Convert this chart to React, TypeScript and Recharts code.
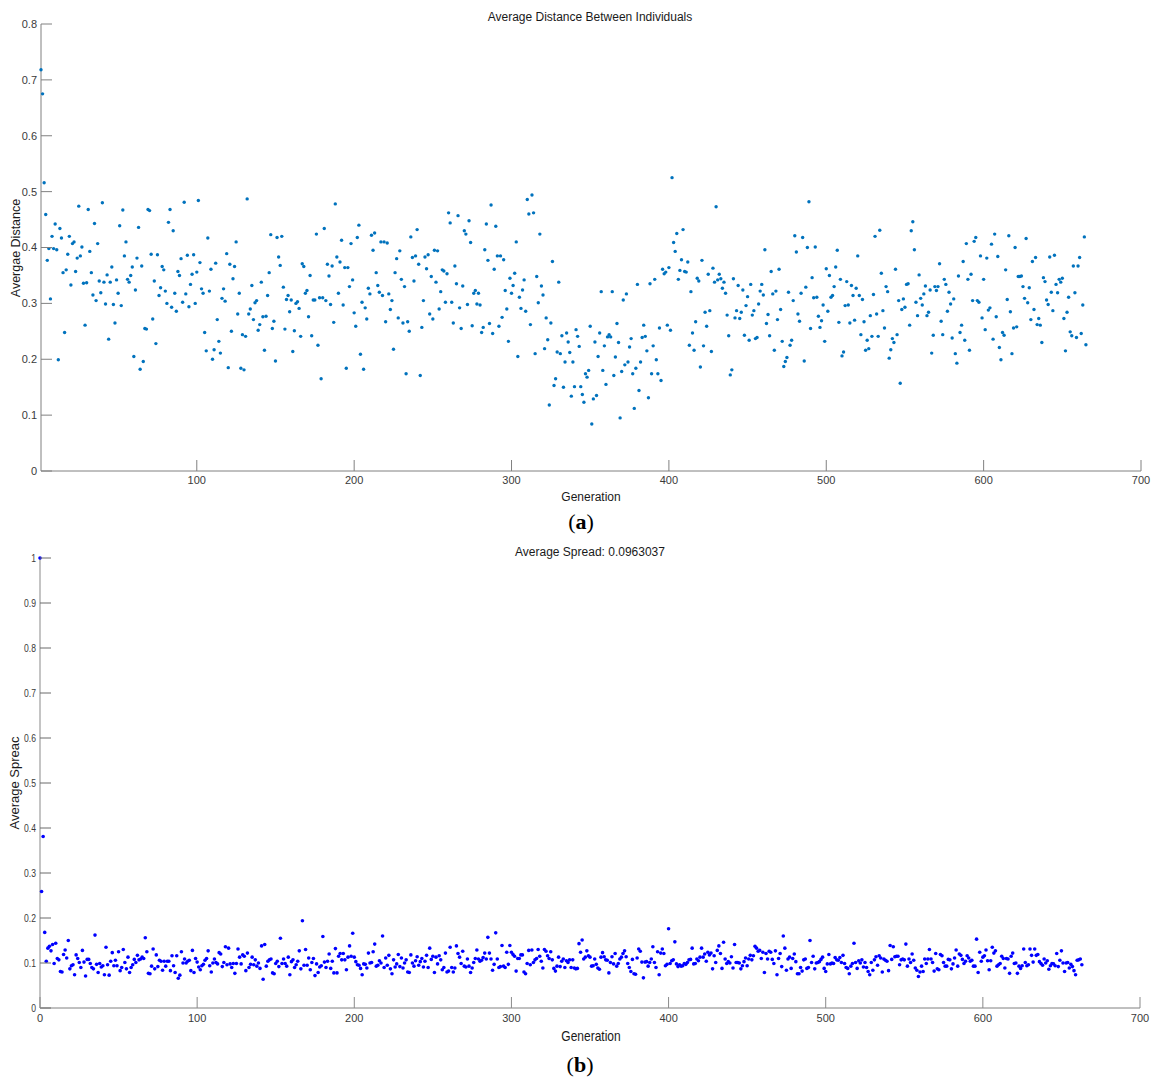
import { ScatterChart, Scatter, XAxis, YAxis } from 'recharts'

// (a) average distance between individuals, generations 1..665
const distancePart1 = [
  0.718, 0.675, 0.516, 0.459, 0.377, 0.398, 0.308, 0.42, 0.398, 0.442,
  0.396, 0.199, 0.434, 0.417, 0.355, 0.248, 0.36, 0.388, 0.42, 0.333,
  0.407, 0.41, 0.357, 0.381, 0.474, 0.385, 0.401, 0.336, 0.261, 0.337,
  0.468, 0.393, 0.355, 0.315, 0.443, 0.305, 0.407, 0.34, 0.319, 0.48,
  0.338, 0.299, 0.351, 0.236, 0.338, 0.365, 0.298, 0.265, 0.342, 0.318,
  0.439, 0.296, 0.467, 0.385, 0.41, 0.343, 0.338, 0.35, 0.365, 0.205,
  0.324, 0.381, 0.436, 0.182, 0.367, 0.196, 0.255, 0.254, 0.468, 0.466,
  0.388, 0.272, 0.34, 0.228, 0.387, 0.314, 0.328, 0.366, 0.36, 0.322,
  0.3, 0.445, 0.468, 0.293, 0.43, 0.318, 0.286, 0.357, 0.35, 0.38,
  0.302, 0.481, 0.317, 0.386, 0.294, 0.334, 0.352, 0.387, 0.3, 0.356,
  0.484, 0.373, 0.326, 0.318, 0.248, 0.215, 0.417, 0.322, 0.361, 0.2,
  0.217, 0.372, 0.271, 0.232, 0.211, 0.309, 0.326, 0.304, 0.389, 0.185,
  0.37, 0.25, 0.344, 0.366, 0.41, 0.281, 0.318, 0.184, 0.244, 0.181,
  0.241, 0.487, 0.281, 0.29, 0.332, 0.271, 0.301, 0.305, 0.252, 0.262,
  0.338, 0.276, 0.216, 0.277, 0.314, 0.355, 0.423, 0.255, 0.268, 0.197,
  0.418, 0.383, 0.368, 0.42, 0.329, 0.254, 0.307, 0.314, 0.285, 0.306,
  0.214, 0.251, 0.3, 0.303, 0.291, 0.241, 0.371, 0.366, 0.318, 0.323,
  0.276, 0.35, 0.242, 0.306, 0.306, 0.424, 0.225, 0.31,
]
const distancePart2 = [
  0.165, 0.310, 0.434, 0.305, 0.370, 0.349, 0.298, 0.367, 0.266, 0.478,
  0.383, 0.318, 0.374, 0.413, 0.297, 0.364, 0.184, 0.364, 0.330, 0.407,
  0.342, 0.283, 0.259, 0.418, 0.440, 0.209, 0.302, 0.182, 0.292, 0.272,
  0.327, 0.317, 0.422, 0.395, 0.426, 0.355, 0.332, 0.320, 0.410, 0.314,
  0.410, 0.267, 0.408, 0.317, 0.289, 0.305, 0.218, 0.355, 0.380, 0.274,
  0.394, 0.343, 0.265, 0.330, 0.174, 0.267, 0.250, 0.419, 0.382, 0.340,
  0.385, 0.432, 0.370, 0.171, 0.257, 0.305, 0.383, 0.362, 0.387, 0.281,
  0.348, 0.272, 0.395, 0.338, 0.394, 0.290, 0.321, 0.360, 0.358, 0.302,
  0.353, 0.462, 0.444, 0.302, 0.265, 0.367, 0.335, 0.457, 0.292, 0.255,
  0.331, 0.430, 0.424, 0.298, 0.448, 0.409, 0.260, 0.318, 0.323, 0.299,
  0.318, 0.297, 0.248, 0.257, 0.396, 0.442, 0.377, 0.264, 0.476, 0.246,
  0.361, 0.438, 0.385, 0.259, 0.385, 0.275, 0.378, 0.323, 0.290, 0.232,
  0.345, 0.318, 0.332, 0.354, 0.410, 0.205, 0.311, 0.291, 0.324, 0.342,
  0.286, 0.486, 0.460, 0.262, 0.494, 0.462, 0.210, 0.348, 0.301, 0.424,
  0.331, 0.315, 0.219, 0.274, 0.235, 0.118, 0.265, 0.375, 0.153, 0.165,
  0.213, 0.338, 0.210, 0.242, 0.150, 0.195, 0.247, 0.231, 0.212, 0.134,
  0.195, 0.151, 0.253, 0.241, 0.223, 0.151, 0.137, 0.123, 0.174, 0.168,
  0.180, 0.259, 0.084, 0.129, 0.231, 0.135, 0.205, 0.247,
]
const distancePart3 = [
  0.321, 0.180, 0.224, 0.155, 0.240, 0.244, 0.240, 0.321, 0.171, 0.204,
  0.264, 0.230, 0.095, 0.178, 0.306, 0.190, 0.317, 0.195, 0.222, 0.237,
  0.174, 0.112, 0.184, 0.334, 0.144, 0.195, 0.239, 0.261, 0.241, 0.215,
  0.131, 0.335, 0.174, 0.224, 0.343, 0.199, 0.174, 0.256, 0.162, 0.361,
  0.353, 0.356, 0.261, 0.364, 0.252, 0.525, 0.409, 0.393, 0.425, 0.343,
  0.359, 0.378, 0.432, 0.357, 0.356, 0.374, 0.225, 0.321, 0.247, 0.216,
  0.267, 0.345, 0.340, 0.186, 0.377, 0.224, 0.284, 0.259, 0.352, 0.287,
  0.214, 0.363, 0.338, 0.473, 0.342, 0.352, 0.344, 0.327, 0.338, 0.318,
  0.279, 0.242, 0.172, 0.181, 0.344, 0.274, 0.287, 0.332, 0.273, 0.284,
  0.324, 0.243, 0.296, 0.312, 0.234, 0.334, 0.279, 0.287, 0.237, 0.239,
  0.299, 0.322, 0.334, 0.315, 0.396, 0.264, 0.280, 0.242, 0.357, 0.317,
  0.216, 0.322, 0.271, 0.361, 0.289, 0.232, 0.187, 0.196, 0.203, 0.320,
  0.225, 0.234, 0.305, 0.421, 0.392, 0.281, 0.268, 0.318, 0.418, 0.197,
  0.329, 0.400, 0.482, 0.255, 0.346, 0.310, 0.401, 0.311, 0.277, 0.257,
  0.269, 0.297, 0.232, 0.362, 0.286, 0.350, 0.311, 0.314, 0.330, 0.365,
  0.395, 0.266, 0.343, 0.206, 0.213, 0.296, 0.339, 0.297, 0.265, 0.332,
  0.314, 0.270, 0.327, 0.385, 0.314, 0.244, 0.307, 0.267, 0.216, 0.234,
  0.219, 0.278, 0.241, 0.316, 0.420, 0.281, 0.241, 0.431,
]
const distancePart4 = [
  0.354, 0.287, 0.256, 0.330, 0.321, 0.202, 0.217, 0.237, 0.230, 0.361,
  0.244, 0.305, 0.157, 0.289, 0.308, 0.293, 0.334, 0.335, 0.261, 0.430,
  0.446, 0.396, 0.302, 0.278, 0.351, 0.309, 0.297, 0.317, 0.331, 0.278,
  0.284, 0.324, 0.211, 0.243, 0.330, 0.323, 0.330, 0.371, 0.268, 0.244,
  0.343, 0.334, 0.286, 0.320, 0.299, 0.238, 0.308, 0.210, 0.193, 0.349,
  0.248, 0.261, 0.375, 0.234, 0.407, 0.343, 0.216, 0.352, 0.305, 0.411,
  0.418, 0.305, 0.302, 0.385, 0.274, 0.343, 0.253, 0.381, 0.288, 0.292,
  0.406, 0.236, 0.424, 0.276, 0.384, 0.221, 0.199, 0.248, 0.243, 0.360,
  0.307, 0.421, 0.285, 0.210, 0.256, 0.400, 0.258, 0.348, 0.348, 0.349,
  0.330, 0.309, 0.416, 0.301, 0.328, 0.271, 0.375, 0.289, 0.382, 0.262,
  0.273, 0.261, 0.230, 0.346, 0.339, 0.306, 0.298, 0.383, 0.320, 0.287,
  0.386, 0.334, 0.319, 0.343, 0.338, 0.345, 0.273, 0.215, 0.284, 0.311,
  0.249, 0.242, 0.367, 0.319, 0.239, 0.367, 0.382, 0.246, 0.297, 0.419,
  0.226,
]

// (b) average spread, generations 0..665
const spreadPart1 = [
  1.0, 0.259, 0.381, 0.168, 0.104, 0.133, 0.137, 0.127, 0.141, 0.099,
  0.144, 0.110, 0.107, 0.081, 0.080, 0.119, 0.129, 0.111, 0.150, 0.087,
  0.094, 0.096, 0.074, 0.118, 0.110, 0.101, 0.090, 0.128, 0.102, 0.071,
  0.108, 0.108, 0.099, 0.090, 0.087, 0.162, 0.097, 0.079, 0.099, 0.091,
  0.094, 0.074, 0.135, 0.096, 0.073, 0.104, 0.123, 0.094, 0.106, 0.094,
  0.125, 0.083, 0.090, 0.130, 0.101, 0.087, 0.113, 0.079, 0.090, 0.096,
  0.108, 0.101, 0.117, 0.107, 0.109, 0.113, 0.110, 0.156, 0.125, 0.077,
  0.076, 0.093, 0.131, 0.087, 0.118, 0.092, 0.106, 0.104, 0.084, 0.104,
  0.093, 0.104, 0.104, 0.083, 0.116, 0.094, 0.079, 0.116, 0.066, 0.073,
  0.125, 0.100, 0.109, 0.100, 0.104, 0.106, 0.083, 0.128, 0.079, 0.110,
  0.102, 0.091, 0.085, 0.094, 0.097, 0.106, 0.110, 0.127, 0.094, 0.080,
  0.100, 0.109, 0.101, 0.098, 0.123, 0.120, 0.092, 0.101, 0.136, 0.096,
  0.133, 0.098, 0.090, 0.099, 0.077, 0.099, 0.131, 0.113, 0.098, 0.118,
  0.115, 0.083, 0.122, 0.090, 0.097, 0.113, 0.096, 0.107, 0.093, 0.100,
  0.088, 0.138, 0.064, 0.141, 0.093, 0.104, 0.107, 0.109, 0.078, 0.076,
  0.099, 0.104, 0.092, 0.155, 0.099, 0.109, 0.099, 0.093, 0.113, 0.074,
  0.103, 0.107, 0.090, 0.096, 0.104, 0.127, 0.087, 0.194, 0.095, 0.130,
  0.095, 0.111, 0.085, 0.101, 0.110, 0.072, 0.098, 0.079, 0.091, 0.094,
  0.159, 0.102, 0.090, 0.104, 0.120, 0.088, 0.104, 0.078, 0.132, 0.078,
  0.115, 0.121, 0.107, 0.121, 0.107, 0.085, 0.113, 0.138, 0.115, 0.166,
  0.113, 0.103, 0.096, 0.095, 0.088, 0.074, 0.098, 0.097, 0.089, 0.122,
  0.100, 0.101, 0.125, 0.142, 0.093, 0.095, 0.105, 0.100, 0.160, 0.090,
  0.111, 0.095, 0.117, 0.087, 0.076, 0.107, 0.091, 0.098, 0.119, 0.092,
  0.111,
]
const spreadPart2 = [
  0.089, 0.100, 0.107, 0.080, 0.079, 0.118, 0.100, 0.093, 0.105, 0.114,
  0.095, 0.103, 0.110, 0.091, 0.104, 0.117, 0.090, 0.133, 0.108, 0.115,
  0.079, 0.113, 0.098, 0.116, 0.107, 0.085, 0.090, 0.122, 0.080,
  0.082, 0.135, 0.090, 0.080, 0.089, 0.138, 0.121, 0.113, 0.099, 0.126,
  0.093, 0.091, 0.109, 0.093, 0.079, 0.089, 0.101, 0.110, 0.129, 0.109,
  0.104, 0.106, 0.112, 0.122, 0.109, 0.157, 0.122, 0.109, 0.084, 0.097,
  0.167, 0.109, 0.090, 0.092, 0.139, 0.093, 0.090, 0.124, 0.097, 0.139,
  0.124, 0.119, 0.115, 0.082, 0.110, 0.110, 0.118, 0.118,
  0.080, 0.076, 0.099, 0.128, 0.096, 0.129, 0.101, 0.107, 0.110, 0.130,
  0.115, 0.104, 0.089, 0.130, 0.126, 0.116, 0.110, 0.125, 0.107, 0.088,
  0.082, 0.093, 0.113, 0.092, 0.104, 0.109, 0.090, 0.105, 0.101, 0.107,
  0.090, 0.107, 0.089, 0.087, 0.088, 0.143, 0.124, 0.151, 0.109, 0.113,
  0.127, 0.116, 0.113, 0.093, 0.094, 0.109, 0.097, 0.089, 0.086, 0.113,
  0.123, 0.114, 0.107, 0.106, 0.078, 0.101, 0.114, 0.098, 0.121, 0.093,
  0.099, 0.109, 0.113, 0.121, 0.127, 0.114, 0.099, 0.090, 0.081, 0.108,
  0.076, 0.075, 0.111, 0.131, 0.126, 0.102, 0.067, 0.102, 0.103,
  0.093, 0.101, 0.109, 0.136, 0.101, 0.090, 0.125, 0.074, 0.122, 0.131,
  0.121, 0.094, 0.097, 0.176, 0.099, 0.105, 0.107, 0.147, 0.098, 0.092,
  0.096, 0.093, 0.094, 0.099, 0.097, 0.101, 0.107, 0.108, 0.133, 0.098,
  0.099, 0.109, 0.105, 0.113, 0.133, 0.113, 0.120, 0.104, 0.124, 0.118,
  0.122, 0.087, 0.116, 0.101, 0.128, 0.138, 0.121, 0.088, 0.146, 0.109,
  0.099, 0.103, 0.100, 0.114, 0.089, 0.141, 0.101, 0.101, 0.100, 0.087,
  0.094, 0.103, 0.111, 0.094, 0.109, 0.117, 0.107, 0.116, 0.137,
  0.133, 0.126, 0.128, 0.110, 0.124, 0.079, 0.121, 0.109, 0.126, 0.124,
  0.108, 0.099, 0.127, 0.074,
]
const spreadPart3 = [
  0.110, 0.121, 0.092, 0.160, 0.133, 0.084, 0.109, 0.113, 0.088, 0.110,
  0.120, 0.103, 0.076, 0.076, 0.090, 0.082, 0.107, 0.109, 0.088,
  0.090, 0.150, 0.101, 0.115, 0.087, 0.100, 0.101, 0.103, 0.108, 0.113,
  0.088, 0.081, 0.098, 0.119, 0.098, 0.100, 0.099, 0.112, 0.107, 0.106,
  0.112, 0.101, 0.117, 0.099, 0.090, 0.088, 0.076, 0.093, 0.099, 0.144,
  0.101, 0.088, 0.105, 0.100, 0.107, 0.091, 0.101, 0.090, 0.081, 0.074,
  0.101, 0.084, 0.107, 0.114, 0.095, 0.116, 0.111, 0.080, 0.109, 0.106,
  0.104, 0.083, 0.139, 0.108, 0.136, 0.114, 0.115, 0.115, 0.096,
  0.107, 0.109, 0.107, 0.142, 0.093, 0.109, 0.101, 0.120, 0.106, 0.089,
  0.084, 0.070, 0.080, 0.093, 0.081, 0.109, 0.099, 0.109, 0.130, 0.109,
  0.101, 0.082, 0.121, 0.087, 0.085, 0.119, 0.116, 0.101, 0.093, 0.093,
  0.108, 0.107, 0.087, 0.098, 0.111, 0.129, 0.093, 0.120, 0.117, 0.108,
  0.099, 0.104, 0.116, 0.111, 0.104, 0.106, 0.093, 0.093, 0.153,
  0.079, 0.124, 0.104, 0.113, 0.116, 0.129, 0.105, 0.085, 0.105, 0.135,
  0.122, 0.127, 0.093, 0.096, 0.099, 0.115, 0.110, 0.089, 0.110, 0.109,
  0.077, 0.115, 0.122, 0.099, 0.100, 0.077, 0.093, 0.088, 0.094, 0.131,
  0.101, 0.094, 0.096, 0.131, 0.117, 0.102, 0.131, 0.117, 0.119,
  0.103, 0.099, 0.095, 0.109, 0.100, 0.105, 0.086, 0.094, 0.099, 0.098,
  0.094, 0.121, 0.092, 0.106, 0.127, 0.100, 0.081, 0.100, 0.101, 0.089,
  0.097, 0.092, 0.083, 0.074, 0.106, 0.107, 0.109, 0.096,
]

const distTicksX = [100, 200, 300, 400, 500, 600, 700]
const distTicksY = [0, 0.1, 0.2, 0.3, 0.4, 0.5, 0.6, 0.7, 0.8]
const spreadTicksX = [0, 100, 200, 300, 400, 500, 600, 700]
const spreadTicksY = [0, 0.1, 0.2, 0.3, 0.4, 0.5, 0.6, 0.7, 0.8, 0.9, 1]

const distData = [...distancePart1, ...distancePart2, ...distancePart3, ...distancePart4]
  .map((v, i) => ({ gen: i + 1, v }))
const spreadData = [...spreadPart1, ...spreadPart2, ...spreadPart3]
  .map((v, i) => ({ gen: i, v }))

const FONT = '"Liberation Sans", Arial, sans-serif'
const TICK_LEN = 11

// ticks point inward, like matlab
function YTick({ x, y, payload, pad, color, squeeze = 1 }: any) {
  const ax = x + pad
  return (
    <g>
      <line x1={ax} y1={y} x2={ax + TICK_LEN} y2={y} stroke={color} />
      <text
        transform={`translate(${x},${y}) scale(${squeeze},1)`}
        dy="0.36em" textAnchor="end" fontSize={11} fill="#3a3a3a" fontFamily={FONT}
      >
        {payload.value}
      </text>
    </g>
  )
}

function XTick({ x, y, payload, pad, color }: any) {
  const ay = y - pad
  return (
    <g>
      <line x1={x} y1={ay} x2={x} y2={ay - TICK_LEN} stroke={color} />
      <text x={x} y={y} dy="0.75em" textAnchor="middle" fontSize={11} fill="#3a3a3a" fontFamily={FONT}>
        {payload.value}
      </text>
    </g>
  )
}

function Txt({ x, y, size = 12, rotate = false, sx = 1, style, children }: any) {
  return (
    <div
      style={{
        position: 'absolute', left: x, top: y, whiteSpace: 'nowrap',
        transform: `translate(-50%, -50%)${rotate ? ' rotate(-90deg)' : ''} scale(${sx}, 1)`,
        fontFamily: FONT, fontSize: size, color: '#1a1a1a', lineHeight: 1,
        ...style,
      }}
    >
      {children}
    </div>
  )
}

export default function App() {
  return (
    <div style={{ position: 'absolute', left: 0, top: 0, width: 1153, height: 1079, background: '#fff' }}>
      <div style={{ position: 'absolute', left: 0, top: 0 }}>
        <ScatterChart width={1153} height={520} margin={{ top: 24, right: 12, left: 11, bottom: 19 }}>
          <XAxis
            type="number" dataKey="gen" domain={[1, 700]} ticks={distTicksX}
            height={30} tickSize={0} tickMargin={5}
            axisLine={{ stroke: '#808080' }} tickLine={false}
            tick={<XTick pad={5} color="#808080" />}
          />
          <YAxis
            type="number" dataKey="v" domain={[0, 0.8]} ticks={distTicksY}
            width={30} tickSize={0} tickMargin={4}
            axisLine={{ stroke: '#808080' }} tickLine={false}
            tick={<YTick pad={4} color="#808080" />}
          />
          <Scatter
            data={distData} isAnimationActive={false}
            shape={(p: any) => <circle cx={p.cx} cy={p.cy} r={1.7} fill="#0072BD" />}
          />
        </ScatterChart>
      </div>
      <Txt x={590} y={17}>Average Distance Between Individuals</Txt>
      <Txt x={16} y={248} size={12.5} rotate>Avergae Distance</Txt>
      <Txt x={591} y={497}>Generation</Txt>
      <Txt x={581} y={522} size={22} style={{ fontFamily: '"Liberation Serif", serif', color: '#000' }}>
        (<b>a</b>)
      </Txt>

      <div style={{ position: 'absolute', left: 0, top: 530 }}>
        <ScatterChart width={1153} height={549} margin={{ top: 28, right: 13, left: 10, bottom: 41 }}>
          <XAxis
            type="number" dataKey="gen" domain={[0, 700]} ticks={spreadTicksX}
            height={30} tickSize={0} tickMargin={6}
            axisLine={{ stroke: '#808080' }} tickLine={false}
            tick={<XTick pad={6} color="#8a8a8a" />}
          />
          <YAxis
            type="number" dataKey="v" domain={[0, 1]} ticks={spreadTicksY}
            width={30} tickSize={0} tickMargin={4}
            axisLine={{ stroke: '#c4c4c4', strokeWidth: 2 }} tickLine={false}
            tick={<YTick pad={4} color="#6a6a6a" squeeze={0.78} />}
          />
          <Scatter
            data={spreadData} isAnimationActive={false}
            shape={(p: any) => <circle cx={p.cx} cy={p.cy} r={1.8} fill="#0000FF" />}
          />
        </ScatterChart>
      </div>
      <Txt x={590} y={552}>Average Spread: 0.0963037</Txt>
      <Txt x={14} y={783} size={13} rotate>Average Spreac</Txt>
      <Txt x={591} y={1035} size={15} sx={0.8}>Generation</Txt>
      <Txt x={580} y={1065} size={22} style={{ fontFamily: '"Liberation Serif", serif', color: '#000' }}>
        (<b>b</b>)
      </Txt>
    </div>
  )
}
